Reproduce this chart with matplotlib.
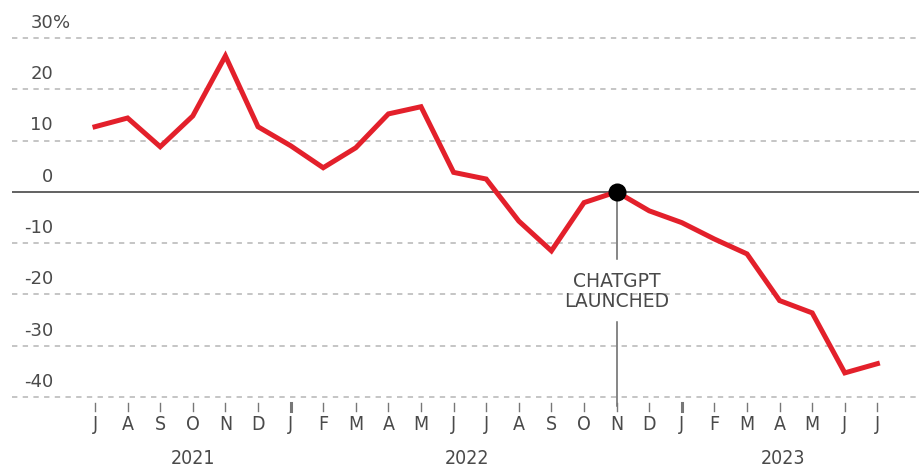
import numpy as np
import matplotlib.pyplot as plt
from matplotlib.transforms import blended_transform_factory

# dane (zmiana r/r, %)
miesiace = ["J", "A", "S", "O", "N", "D",
            "J", "F", "M", "A", "M", "J", "J", "A", "S", "O", "N", "D",
            "J", "F", "M", "A", "M", "J", "J"]
wartosci = [12.7, 14.4, 8.8, 14.8, 26.5, 12.7,
            9.0, 4.7, 8.6, 15.2, 16.6, 3.8, 2.5, -5.7, -11.5, -2.1, 0.0, -3.7,
            -6.0, -9.2, -12.1, -21.2, -23.6, -35.3, -33.5]
lata = ["2021", "2022", "2023"]
pozycjeLat = [3.0, 11.4, 21.1]
poziomyY = [30, 20, 10, 0, -10, -20, -30, -40]
indeksChatGPT = 16
czerwony = "#e3202b"
szary = "#555555"
kolorTekstu = "#4a4a4a"

W, H = 919, 470
fig = plt.figure(figsize=(W / 100, H / 100), dpi=100)
# obszar wykresu w pikselach: x 12..919, y 38..397
ax = fig.add_axes([12 / W, 1 - 397 / H, 1 - 12 / W, (397 - 38) / H])
krok = 32.6
ax.set_xlim((12 - 95) / krok, (919 - 95) / krok)
ax.set_ylim(-40, 30)
for s in ax.spines.values():
    s.set_visible(False)
ax.set_xticks([])
ax.set_yticks([])

x = np.arange(len(wartosci))

# siatka pozioma
for p in poziomyY:
    if p == 0:
        ax.axhline(0, color=szary, lw=1.3, zorder=1)
    else:
        ax.axhline(p, color="#b5b5b5", lw=1.1, ls=(0, (3.5, 3.5)), zorder=1, clip_on=False)

# etykiety osi Y nad liniami
tr = blended_transform_factory(fig.transFigure, ax.transData)
for p in poziomyY:
    ax.text(53 / W, p + 1.2, str(p), transform=tr, ha="right", va="bottom",
            fontsize=13, color=kolorTekstu, family="DejaVu Sans")
ax.text(53 / W, poziomyY[0] + 1.2, "%", transform=tr, ha="left", va="bottom",
        fontsize=13, color=kolorTekstu, family="DejaVu Sans")

# linia ChatGPT z przerwą na opis
xc = x[indeksChatGPT]
ax.plot([xc, xc], [0, -13], color="#666666", lw=1.1, zorder=2)
ax.plot([xc, xc], [-25.3, -41.8], color="#666666", lw=1.1, zorder=2, clip_on=False)
ax.text(xc, -19.4, "CHATGPT\nLAUNCHED", ha="center", va="center", fontsize=13.5,
        color=kolorTekstu, family="DejaVu Sans", linespacing=1.05)

# seria
ax.plot(x, wartosci, color=czerwony, lw=3.6, solid_joinstyle="miter", zorder=3)
ax.plot([xc], [wartosci[indeksChatGPT]], marker="o", ms=13, color="black", zorder=4,
        markeredgewidth=0)

# znaczniki i etykiety miesięcy
trx = blended_transform_factory(ax.transData, fig.transFigure)
for i, m in enumerate(miesiace):
    grub = 2.2 if m == "J" and i in (6, 18) else 1.0
    ax.plot([i, i], [1 - 403 / H, 1 - 411 / H], transform=trx, color="#777777",
            lw=grub, clip_on=False)
    ax.text(i, 1 - 425 / H, m, transform=trx, ha="center", va="center", fontsize=14,
            color=kolorTekstu, family="DejaVu Sans", fontstretch="condensed")
for r, px in zip(lata, pozycjeLat):
    ax.text(px, 1 - 458 / H, r, transform=trx, ha="center", va="center", fontsize=14,
            color=kolorTekstu, family="DejaVu Sans", fontstretch="condensed")

fig.savefig("out.png", dpi=100)
